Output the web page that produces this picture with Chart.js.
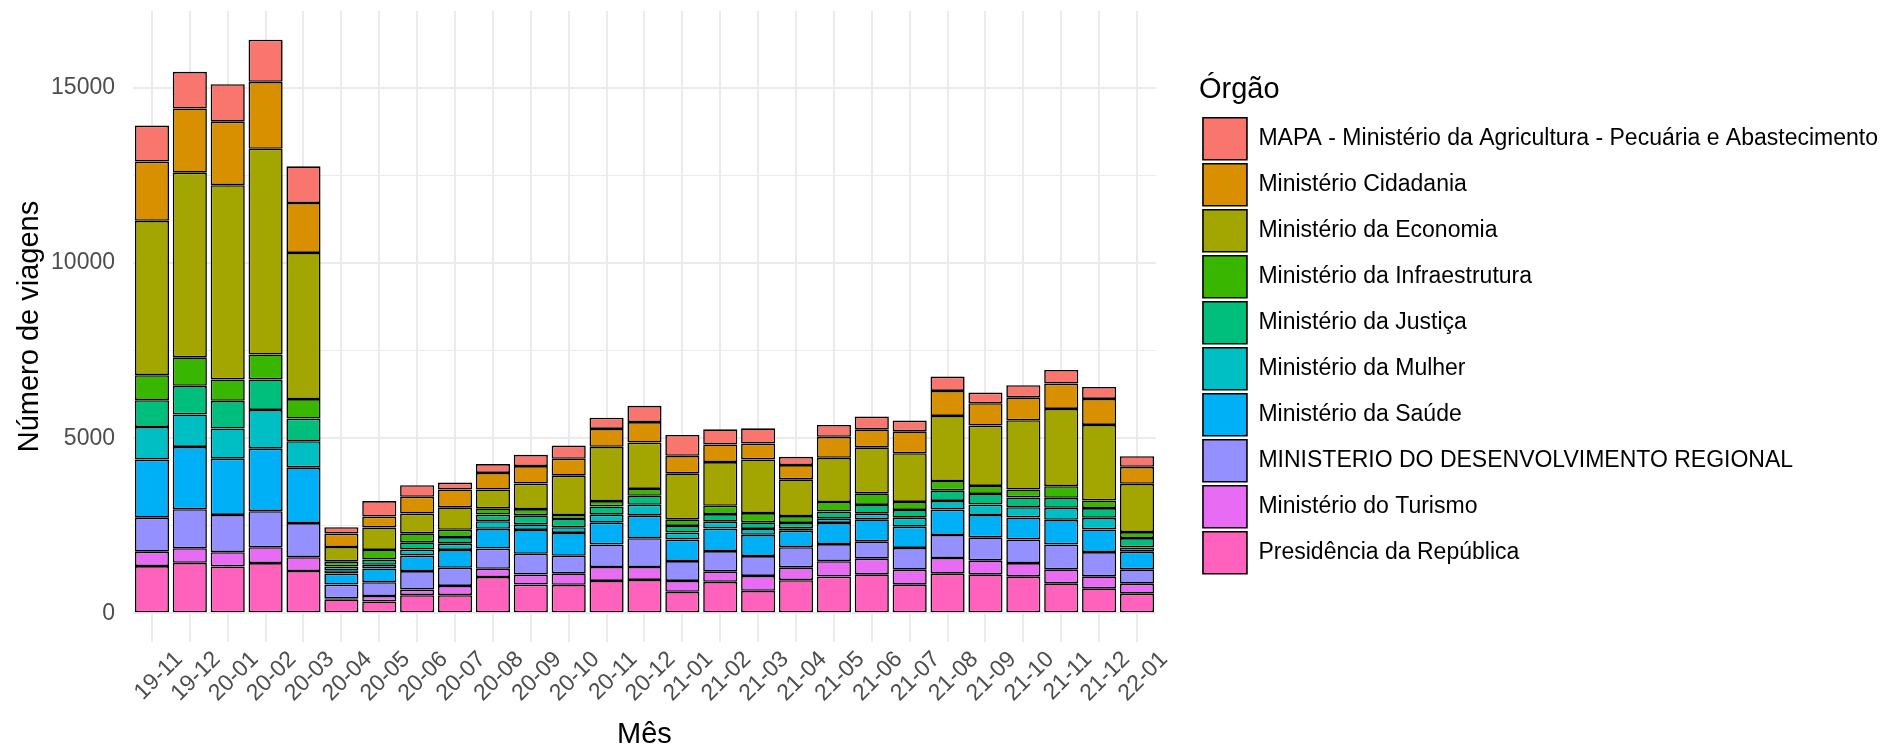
<!DOCTYPE html>
<html>
<head>
<meta charset="utf-8">
<script src="https://cdn.jsdelivr.net/npm/chart.js@4.4.1/dist/chart.umd.min.js"></script>
<style>
  html, body { margin: 0; padding: 0; background: #fff; }
</style>
</head>
<body>
<canvas id="viagens" width="1895" height="748"></canvas>
<script>
var meses = ['19-11', '19-12', '20-01', '20-02', '20-03', '20-04', '20-05', '20-06', '20-07',
  '20-08', '20-09', '20-10', '20-11', '20-12', '21-01', '21-02', '21-03', '21-04', '21-05',
  '21-06', '21-07', '21-08', '21-09', '21-10', '21-11', '21-12', '22-01'];

// viagens por órgão e mês
var presidencia = [1350, 1443, 1340, 1434, 1208, 400, 340, 518, 518, 1037, 822, 813, 926, 954,
  614, 898, 643, 945, 1048, 1114, 819, 1133, 1114, 1055, 856, 713, 561];
var turismo = [410, 415, 405, 453, 396, 30, 155, 161, 265, 236, 284, 330, 397, 369,
  312, 302, 425, 369, 441, 447, 428, 447, 400, 380, 399, 342, 285];
var desRegional = [970, 1114, 1065, 1031, 972, 390, 395, 528, 518, 575, 595, 501, 643, 822,
  567, 577, 567, 576, 489, 495, 619, 657, 657, 675, 713, 694, 409];
var saude = [1660, 1778, 1606, 1782, 1594, 315, 390, 443, 510, 566, 680, 652, 623, 643,
  614, 642, 605, 470, 602, 629, 609, 724, 637, 628, 703, 646, 504];
var mulher = [930, 930, 862, 1108, 745, 95, 106, 170, 179, 217, 161, 161, 227, 312,
  199, 199, 170, 69, 123, 161, 257, 247, 296, 294, 342, 333, 123];
var justica = [765, 815, 789, 870, 645, 110, 151, 208, 188, 189, 255, 236, 236, 255,
  189, 217, 189, 151, 205, 248, 219, 305, 304, 276, 286, 276, 266];
var infra = [715, 814, 611, 713, 558, 146, 273, 255, 208, 179, 180, 114, 152, 198,
  189, 236, 264, 198, 270, 333, 229, 266, 229, 228, 332, 219, 171];
var economia = [4408, 5273, 5548, 5874, 4174, 408, 642, 565, 641, 537, 727, 1124, 1549, 1323,
  1313, 1248, 1531, 1049, 1262, 1314, 1390, 1857, 1723, 1977, 2206, 2157, 1379];
var cidadania = [1690, 1833, 1812, 1913, 1425, 383, 311, 481, 509, 472, 501, 482, 511, 586,
  501, 501, 454, 407, 600, 514, 628, 714, 638, 656, 722, 742, 485];
var mapa = [1028, 1048, 1069, 1202, 1048, 183, 443, 330, 198, 254, 322, 378, 321, 463,
  596, 434, 435, 236, 338, 362, 305, 409, 304, 343, 390, 342, 304];

var yTicks = [0, 2500, 5000, 7500, 10000, 12500, 15000];

function serie(nome, valores, cor) {
  return {
    label: nome,
    data: valores,
    backgroundColor: cor,
    borderColor: '#000',
    borderWidth: 1.6,
    borderSkipped: false,
    barPercentage: 0.9,
    categoryPercentage: 1.0
  };
}

var fonte = "'Liberation Sans', Arial, sans-serif";

function semMargens(scale) {
  scale.paddingTop = 0;
  scale.paddingBottom = 0;
  scale.paddingLeft = 0;
  scale.paddingRight = 0;
}

var ctx = document.getElementById('viagens').getContext('2d');
var chart = new Chart(ctx, {
  type: 'bar',
  data: {
    labels: meses,
    datasets: [
      serie('Presidência da República', presidencia, '#FF62BC'),
      serie('Ministério do Turismo', turismo, '#E76BF3'),
      serie('MINISTERIO DO DESENVOLVIMENTO REGIONAL', desRegional, '#9590FF'),
      serie('Ministério da Saúde', saude, '#00B0F6'),
      serie('Ministério da Mulher', mulher, '#00BFC4'),
      serie('Ministério da Justiça', justica, '#00BF7D'),
      serie('Ministério da Infraestrutura', infra, '#39B600'),
      serie('Ministério da Economia', economia, '#A3A500'),
      serie('Ministério Cidadania', cidadania, '#D89000'),
      serie('MAPA - Ministério da Agricultura - Pecuária e Abastecimento', mapa, '#F8766D')
    ]
  },
  options: {
    responsive: false,
    animation: false,
    layout: { padding: { top: 11, left: 0, right: 7, bottom: 0 } },
    plugins: {
      tooltip: { enabled: false },
      legend: {
        position: 'right',
        align: 'start',
        reverse: true,
        maxWidth: 720,
        title: {
          display: true,
          text: 'Órgão',
          position: 'start',
          color: '#000',
          font: { family: fonte, size: 29 },
          padding: { top: 64, bottom: 4 }
        },
        labels: {
          boxWidth: 44,
          boxHeight: 42,
          padding: 4,
          color: '#000',
          font: { family: fonte, size: 23 }
        }
      }
    },
    scales: {
      x: {
        stacked: true,
        grid: { offset: false, color: '#EBEBEB', lineWidth: 2, drawTicks: false },
        border: { display: false },
        ticks: {
          autoSkip: false,
          minRotation: 45,
          maxRotation: 45,
          labelOffset: 27,
          padding: 4,
          color: '#4D4D4D',
          font: { family: fonte, size: 23 }
        },
        title: {
          display: true,
          text: 'Mês',
          color: '#000',
          font: { family: fonte, size: 29 },
          padding: { top: 0, bottom: -4 }
        },
        afterFit: function (scale) { scale.height = 106; semMargens(scale); }
      },
      y: {
        stacked: true,
        min: -819,
        max: 17199,
        afterBuildTicks: function (scale) {
          scale.ticks = yTicks.map(function (v) { return { value: v }; });
        },
        grid: {
          drawTicks: false,
          color: '#EBEBEB',
          lineWidth: function (c) { return c.tick && c.tick.value % 5000 === 0 ? 2 : 1; }
        },
        border: { display: false },
        ticks: {
          padding: 18,
          color: '#4D4D4D',
          font: { family: fonte, size: 23 },
          callback: function (v) { return v % 5000 === 0 ? String(v) : ''; }
        },
        title: {
          display: true,
          text: 'Número de viagens',
          color: '#000',
          font: { family: fonte, size: 29 },
          padding: { top: 13, bottom: 0 }
        },
        afterFit: function (scale) { scale.width = 133; semMargens(scale); }
      },
      // eixo vazio só para abrir o espaço entre o painel e a legenda
      gap: {
        type: 'linear',
        position: 'right',
        grid: { display: false },
        border: { display: false },
        ticks: { display: false },
        afterFit: function (scale) { scale.width = 43; semMargens(scale); }
      }
    }
  }
});
</script>
</body>
</html>
